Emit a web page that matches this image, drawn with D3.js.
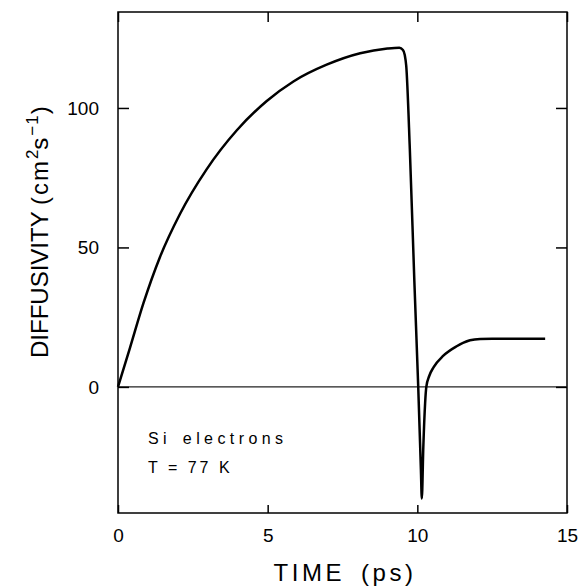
<!DOCTYPE html>
<html>
<head>
<meta charset="utf-8">
<script src="https://cdn.jsdelivr.net/npm/d3@7"></script>
<style>
  body { margin: 0; background: #fff; }
  svg { font-family: "Liberation Sans", Arial, Helvetica, sans-serif; }
</style>
</head>
<body>
<svg id="chart" width="580" height="588"></svg>
<script>
// values
var timePs = [0, 0.4, 0.85, 1.4, 2.07, 2.96, 3.97, 4.97, 5.86, 6.97, 8.09, 9.0, 9.4, 9.52, 9.58, 9.63,
              9.75, 9.9, 10.03, 10.12, 10.15, 10.2, 10.26, 10.3, 10.4, 10.54, 10.87, 11.3, 11.76, 12.1, 12.5, 14.27];
var diffusivity = [0, 14, 30, 46.5, 62, 78, 92, 102.5, 109.5, 115.5, 119.6, 121.3, 121.6, 120.8, 119, 115,
                   85, 38, 0, -30, -40, -21.5, -5.8, 0, 4, 7, 11.2, 14.5, 16.7, 17.2, 17.3, 17.3];
var xTicks = [0, 5, 10, 15];
var yTicks = [0, 50, 100];
var notes = ["Si electrons", "T = 77 K"];

var mLeft = 118, mTop = 12, w = 449, h = 501;

var svg = d3.select("#chart");
var g = svg.append("g").attr("transform", `translate(${mLeft},${mTop})`);

var x = d3.scaleLinear().domain([0, 15]).range([0, w]);
var y = d3.scaleLinear().domain([-45.2, 134.4]).range([h, 0]);

// frame
g.append("rect").attr("width", w).attr("height", h)
  .attr("fill", "none").attr("stroke", "#000").attr("stroke-width", 1.5);

// zero line
g.append("line").attr("x1", 0).attr("x2", w).attr("y1", y(0)).attr("y2", y(0))
  .attr("stroke", "#222").attr("stroke-width", 1.1);

var bottomAxis = g.append("g").attr("transform", `translate(0,${h})`)
  .call(d3.axisBottom(x).tickValues(xTicks).tickSize(-8).tickPadding(15.5).tickFormat(d3.format("d")));
var topAxis = g.append("g")
  .call(d3.axisTop(x).tickValues(xTicks).tickSize(-10).tickFormat(""));
var leftAxis = g.append("g")
  .call(d3.axisLeft(y).tickValues(yTicks).tickSize(-11).tickPadding(19).tickFormat(d3.format("d")));
var rightAxis = g.append("g").attr("transform", `translate(${w},0)`)
  .call(d3.axisRight(y).tickValues(yTicks).tickSize(-11).tickFormat(""));

[bottomAxis, topAxis, leftAxis, rightAxis].forEach(a => {
  a.select(".domain").remove();
  a.selectAll(".tick line").attr("stroke", "#000").attr("stroke-width", 1.5);
  a.selectAll("text").attr("font-size", 19).attr("fill", "#000")
    .attr("font-family", "'Liberation Sans', Arial, sans-serif");
});

// curve
var pts = timePs.map((t, i) => [t, diffusivity[i]]);
var line = d3.line().x(d => x(d[0])).y(d => y(d[1])).curve(d3.curveMonotoneX);
g.append("path").datum(pts).attr("d", line)
  .attr("fill", "none").attr("stroke", "#000").attr("stroke-width", 2.5)
  .attr("stroke-linejoin", "round");

// annotation
g.selectAll("text.note").data(notes).enter().append("text")
  .attr("class", "note")
  .attr("x", 30)
  .attr("y", (d, i) => 432 + i * 29)
  .attr("font-size", 16)
  .attr("letter-spacing", (d, i) => i === 0 ? 4.4 : 3)
  .attr("word-spacing", (d, i) => i === 0 ? 3 : 0)
  .text(d => d);

// axis titles
svg.append("text")
  .attr("x", 345).attr("y", 581)
  .attr("text-anchor", "middle")
  .attr("font-size", 24).attr("letter-spacing", 3.5).attr("word-spacing", 6)
  .text("TIME (ps)");

var yl = svg.append("text")
  .attr("transform", "translate(48,358) rotate(-90)")
  .attr("font-size", 24);
yl.append("tspan").text("DIFFUSIVITY ");
yl.append("tspan").attr("letter-spacing", 2).text("(cm");
yl.append("tspan").attr("font-size", 17).attr("dy", -10).text("2");
yl.append("tspan").attr("dy", 10).attr("letter-spacing", 2).text("s");
yl.append("tspan").attr("font-size", 17).attr("dy", -10).attr("letter-spacing", 1).text("\u22121");
yl.append("tspan").attr("dy", 10).text(")");
</script>
</body>
</html>
